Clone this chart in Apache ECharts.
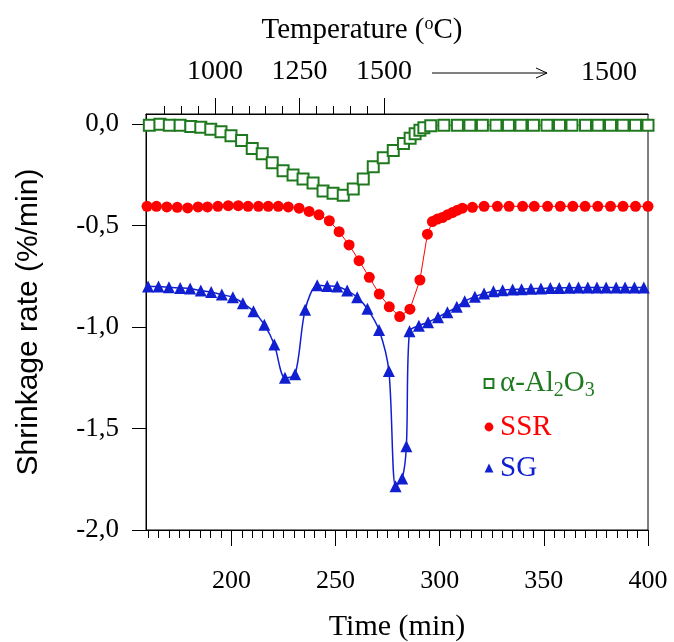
<!DOCTYPE html>
<html>
<head>
<meta charset="utf-8">
<script src="https://cdn.jsdelivr.net/npm/echarts@6/dist/echarts.min.js"></script>
<style>
html, body { margin: 0; padding: 0; background: #fff; }
#chart { width: 674px; height: 642px; }
</style>
</head>
<body>
<div id="chart"></div>
<script>
// alpha-Al2O3 [time (min), shrinkage rate (%/min)]
const alumina = [
  [160.6, -0.005], [165.7, 0], [170.2, -0.005], [175.4, -0.005], [180.5, -0.011],
  [185.3, -0.015], [190.1, -0.025], [195, -0.038], [199.8, -0.057], [204.9, -0.08],
  [210, -0.12], [214.8, -0.146], [219.6, -0.19], [224.8, -0.23], [229.6, -0.25],
  [234.4, -0.27], [239.2, -0.29], [244, -0.33], [248.8, -0.34], [253.7, -0.35],
  [258.5, -0.32], [263.3, -0.27], [268.1, -0.21], [272.9, -0.165], [277.7, -0.13],
  [282.6, -0.095], [285.8, -0.07], [288.2, -0.047], [290.5, -0.03], [292.4, -0.018],
  [295.7, -0.008], [302, -0.005], [308.5, -0.005], [314.5, -0.005], [320.5, -0.005],
  [327, -0.005], [333, -0.005], [339, -0.005], [345, -0.005], [351.5, -0.005],
  [357.5, -0.005], [363.5, -0.005], [370, -0.005], [376, -0.005], [382, -0.005],
  [388, -0.005], [394, -0.005], [400, -0.005]
];

// SSR
const ssr = [
  [159.5, -0.405], [164, -0.405], [169, -0.408], [174, -0.41], [179, -0.413], [184, -0.408],
  [188.5, -0.408], [193.5, -0.405], [198.5, -0.402], [203.3, -0.402], [208, -0.405],
  [213, -0.405], [217.7, -0.405], [222.5, -0.405], [227.3, -0.408], [232.5, -0.414],
  [237.3, -0.43], [242, -0.447], [247, -0.476], [251.7, -0.53], [256.5, -0.595],
  [261.3, -0.673], [266.2, -0.755], [271, -0.837], [275.8, -0.9], [280.8, -0.948],
  [285.7, -0.912], [290.5, -0.768], [294.1, -0.542], [296.5, -0.48], [298.9, -0.468],
  [301.3, -0.46], [303.7, -0.447], [306.1, -0.436], [308.5, -0.424], [310.9, -0.414],
  [315.7, -0.41], [321.3, -0.405], [327.7, -0.405], [333.3, -0.405], [339.8, -0.405],
  [345.4, -0.405], [351.8, -0.405], [357.9, -0.405], [363.9, -0.405], [369.8, -0.405],
  [375.9, -0.405], [382, -0.405], [388, -0.405], [394, -0.405], [400, -0.405]
];

// SG
const sg = [
  [160, -0.8], [165, -0.8], [170, -0.804], [175.4, -0.807], [180.2, -0.81],
  [185.3, -0.82], [190.3, -0.827], [195.4, -0.84], [200.7, -0.853], [205.5, -0.882],
  [210.6, -0.922], [215.8, -0.988], [220.6, -1.086], [225.7, -1.25], [230.6, -1.233],
  [235.4, -0.915], [241.2, -0.794], [246, -0.797], [250.8, -0.8], [255.6, -0.82],
  [260.4, -0.853], [265.3, -0.91], [270.9, -1.015], [275.6, -1.217], [278.8, -1.784],
  [282, -1.746], [284, -1.587], [285.5, -1.02], [290, -0.993], [294.4, -0.976],
  [299.2, -0.951], [303.7, -0.927], [308.2, -0.9], [312, -0.873], [316.9, -0.85],
  [321.3, -0.834], [325.8, -0.823], [330.2, -0.818], [335, -0.815], [339.3, -0.813],
  [343.8, -0.811], [348.6, -0.81], [353.1, -0.808], [357.4, -0.807], [362.2, -0.806],
  [366.6, -0.805], [371.1, -0.805], [375.5, -0.805], [379.9, -0.805], [384.7, -0.805],
  [389, -0.805], [393.5, -0.805], [398, -0.805]
];

const timeTicks = [200, 250, 300, 350, 400];
const timeMinor = [];
for (let t = 160; t < 400; t += 5) if (t % 50 !== 0) timeMinor.push(t);
const tempTicks = [1000, 1250, 1500];
const tempMinor = [];
for (let c = 850; c < 1500; c += 50) if (c % 250 !== 0) tempMinor.push(c);
const rateTicks = [-2, -1.5, -1, -0.5, 0];

const GREEN = '#1f7a1f';
const RED = '#ff0000';
const BLUE = '#1020d0';
const SERIF = 'Liberation Serif';

const chart = echarts.init(document.getElementById('chart'));

const gridBox = { left: 146, right: 26, top: 114, bottom: 112, outerBoundsMode: 'none', containLabel: false };
const blackLine = { onZero: false, lineStyle: { color: '#000', width: 1 } };
const tick = (values, len) => ({ customValues: values, length: len, lineStyle: { color: '#000' } });
const noLine = { show: false, onZero: false };

const option = {
  animation: false,
  grid: [
    Object.assign({ show: true, borderColor: '#000', borderWidth: 1, backgroundColor: 'transparent' }, gridBox),
    Object.assign({}, gridBox)
  ],
  xAxis: [
    {
      gridIndex: 0, type: 'value', position: 'bottom', min: 159, max: 400,
      name: 'Time (min)', nameLocation: 'middle', nameGap: 82,
      nameTextStyle: { fontFamily: SERIF, fontSize: 30, color: '#000' },
      axisLine: blackLine,
      axisTick: tick(timeTicks, 16),
      axisLabel: {
        customValues: timeTicks, margin: 38,
        fontFamily: SERIF, fontSize: 26, color: '#000'
      },
      splitLine: { show: false }
    },
    {
      gridIndex: 0, type: 'value', position: 'top', min: 796, max: 2281,
      axisLine: blackLine,
      axisTick: tick(tempTicks, 16),
      axisLabel: {
        customValues: tempTicks, margin: 28,
        fontFamily: SERIF, fontSize: 28, color: '#000',
        formatter: v => String(v)
      },
      splitLine: { show: false }
    },
    {
      gridIndex: 1, type: 'value', position: 'bottom', min: 159, max: 400,
      axisLine: noLine,
      axisTick: tick(timeMinor, 8),
      axisLabel: { show: false },
      splitLine: { show: false }
    },
    {
      gridIndex: 1, type: 'value', position: 'top', min: 796, max: 2281,
      axisLine: noLine,
      axisTick: tick(tempMinor, 8),
      axisLabel: { show: false },
      splitLine: { show: false }
    }
  ],
  yAxis: [
    {
      gridIndex: 0, type: 'value', min: -2, max: 0.05,
      name: 'Shrinkage rate (%/min)', nameLocation: 'middle', nameGap: 102,
      nameTextStyle: { fontFamily: 'Liberation Sans', fontSize: 30, color: '#000' },
      axisLine: blackLine,
      axisTick: tick(rateTicks, 14),
      axisLabel: {
        customValues: rateTicks, margin: 27,
        fontFamily: SERIF, fontSize: 27, color: '#000',
        formatter: v => v.toFixed(1).replace('.', ',')
      },
      splitLine: { show: false }
    },
    {
      gridIndex: 1, type: 'value', min: -2, max: 0.05, show: false
    }
  ],
  legend: {
    orient: 'vertical', left: 477, top: 364, itemGap: 12,
    itemWidth: 12, itemHeight: 11,
    lineStyle: { opacity: 0 },
    data: ['α-Al2O3', 'SSR', 'SG'],
    formatter: function (name) {
      if (name === 'α-Al2O3') return '{g|α-Al}{gs|2}{g|O}{gs|3}';
      if (name === 'SSR') return '{r|SSR}';
      return '{b|SG}';
    },
    textStyle: {
      rich: {
        g: { fontFamily: SERIF, fontSize: 29, color: GREEN },
        gs: { fontFamily: SERIF, fontSize: 20, color: GREEN, padding: [14, 0, 0, 0] },
        r: { fontFamily: SERIF, fontSize: 29, color: RED },
        b: { fontFamily: SERIF, fontSize: 29, color: BLUE }
      }
    }
  },
  graphic: [
    {
      type: 'text', x: 362, y: 30,
      style: {
        text: '{t|Temperature (}{s|o}{t|C)}',
        align: 'center', verticalAlign: 'middle',
        rich: {
          t: { fontFamily: SERIF, fontSize: 29, fill: '#000' },
          s: { fontFamily: SERIF, fontSize: 18, fill: '#000', padding: [0, 0, 12, 0] }
        }
      }
    },
    {
      type: 'line', shape: { x1: 432, y1: 73, x2: 547, y2: 73 },
      style: { stroke: '#000', lineWidth: 1 }
    },
    {
      type: 'polyline', shape: { points: [[536, 68], [547, 73], [536, 78]] },
      style: { stroke: '#000', lineWidth: 1, fill: null }
    },
    {
      type: 'text', x: 609, y: 73,
      style: {
        text: '1500', align: 'center', verticalAlign: 'middle',
        fontFamily: SERIF, fontSize: 28, fill: '#000'
      }
    }
  ],
  series: [
    {
      name: 'α-Al2O3', type: 'line', xAxisIndex: 0, yAxisIndex: 0,
      data: alumina, symbol: 'emptyRect', symbolSize: 11,
      itemStyle: { color: GREEN, borderWidth: 1.5 },
      lineStyle: { color: GREEN, width: 1 }
    },
    {
      name: 'SSR', type: 'line', xAxisIndex: 0, yAxisIndex: 0,
      data: ssr, symbol: 'circle', symbolSize: 11,
      itemStyle: { color: RED },
      lineStyle: { color: RED, width: 1 }
    },
    {
      name: 'SG', type: 'line', xAxisIndex: 0, yAxisIndex: 0,
      data: sg, symbol: 'triangle', symbolSize: 12, smooth: 0.3,
      itemStyle: { color: BLUE },
      lineStyle: { color: BLUE, width: 1.5 }
    }
  ]
};

chart.setOption(option);
</script>
</body>
</html>
